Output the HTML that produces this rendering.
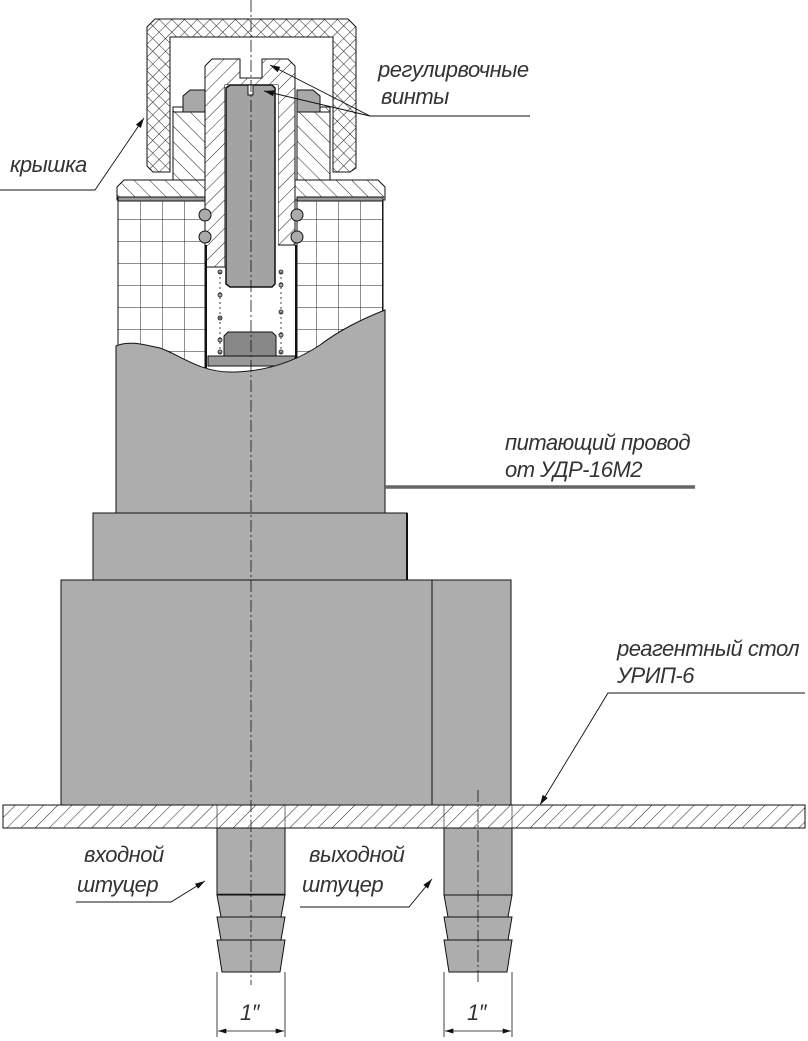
<!DOCTYPE html>
<html><head><meta charset="utf-8"><style>
html,body{margin:0;padding:0;background:#fff}
svg{display:block}
text{font-family:"Liberation Sans",sans-serif;font-style:italic;font-size:22px;fill:#333;letter-spacing:-0.5px}
</style></head><body>
<svg width="808" height="1041" viewBox="0 0 808 1041" xmlns="http://www.w3.org/2000/svg">
<defs>
<pattern id="hat" width="10" height="10" patternUnits="userSpaceOnUse" patternTransform="rotate(45)">
<rect width="10" height="10" fill="#fff"/><line x1="0" y1="0" x2="0" y2="10" stroke="#222" stroke-width="1"/></pattern>
<pattern id="hat2" width="11" height="11" patternUnits="userSpaceOnUse" patternTransform="rotate(-45)">
<rect width="11" height="11" fill="#fff"/><line x1="0" y1="0" x2="0" y2="11" stroke="#222" stroke-width="1"/></pattern>
<pattern id="cross" width="9" height="9" patternUnits="userSpaceOnUse" patternTransform="rotate(45)">
<rect width="9" height="9" fill="#fff"/><line x1="0" y1="0" x2="0" y2="9" stroke="#222" stroke-width="1"/><line x1="0" y1="0" x2="9" y2="0" stroke="#222" stroke-width="1"/></pattern>
<pattern id="grid" x="118" y="197" width="22" height="22" patternUnits="userSpaceOnUse">
<rect width="22" height="22" fill="#fff"/><path d="M0 0H22M0 0V22" stroke="#222" stroke-width="1"/></pattern>
<marker id="ar" viewBox="0 0 10 6" refX="10" refY="3" markerWidth="12" markerHeight="6" orient="auto" markerUnits="userSpaceOnUse"><path d="M0 0L10 3L0 6z" fill="#111"/></marker>
<marker id="ar2" viewBox="0 0 10 6" refX="10" refY="3" markerWidth="12" markerHeight="5" orient="auto-start-reverse" markerUnits="userSpaceOnUse"><path d="M0 0L10 3L0 6z" fill="#111"/></marker>
</defs>
<g stroke="#111" stroke-width="1">
<path d="M155 19H348L356 27V168L350 172H333V37H170V172H153L147 166V27Z" fill="url(#cross)"/>
<path d="M173 107H183V112H205V180H124L117 187V200H385V187L378 180H297V112H320V107H330V180H173Z" fill="url(#hat2)"/>
<path d="M173 112H205V180H173Z" fill="url(#hat2)"/>
<path d="M297 112H330V180H297Z" fill="url(#hat2)"/>
<rect x="118" y="200" width="87" height="170" fill="url(#grid)"/>
<rect x="297" y="200" width="86" height="170" fill="url(#grid)"/>
<rect x="118" y="197" width="87" height="4" fill="#999"/>
<rect x="297" y="197" width="86" height="4" fill="#999"/>
<path d="M183 112V96L190 90H205V112Z" fill="#a8a8a8"/>
<path d="M297 90H313L320 96V112H297Z" fill="#a8a8a8"/>
<path d="M205 66L212 59H240V78H262V59H288L295 66V245H278V85H225V267H205Z" fill="url(#hat)"/>
<rect x="225" y="85" width="53" height="182" fill="#fff" stroke="none"/>
<path d="M226 88L230 85H272L275 88V284L272 287H230L226 284Z" fill="#a3a3a3" stroke-width="1.5"/>
<rect x="248" y="85" width="5" height="10" fill="#fff"/>
<line x1="206" y1="245" x2="206" y2="368" stroke-width="2"/>
<line x1="296" y1="245" x2="296" y2="368" stroke-width="2"/>
<g fill="#aaa"><circle cx="205" cy="215" r="6"/><circle cx="205" cy="237" r="6"/><circle cx="297" cy="215" r="6"/><circle cx="297" cy="237" r="6"/></g>
<g fill="#aaa" stroke-width="0.8"><circle cx="220" cy="272" r="2"/><circle cx="220" cy="295" r="2"/><circle cx="220" cy="318" r="2"/><circle cx="220" cy="340" r="2"/><circle cx="220" cy="352" r="2"/>
<circle cx="281" cy="272" r="2"/><circle cx="281" cy="285" r="2"/><circle cx="281" cy="312" r="2"/><circle cx="281" cy="335" r="2"/><circle cx="281" cy="352" r="2"/></g>
<line x1="220" y1="272" x2="220" y2="355" stroke-dasharray="2 3" stroke-width="0.8"/>
<line x1="281" y1="272" x2="281" y2="355" stroke-dasharray="2 3" stroke-width="0.8"/>
<path d="M224 336L228 332H272L276 336V356H224Z" fill="#888"/>
<rect x="208" y="356" width="87" height="10" fill="#999"/>
<path d="M116 346C130 340 145 345 160 348C180 355 200 372 230 372C260 372 290 365 320 345C340 330 360 320 385 310V513H116Z" fill="#adadad"/>
<rect x="93" y="513" width="314" height="67" fill="#adadad"/>
<line x1="407" y1="513" x2="407" y2="580" stroke-width="2"/>
<rect x="61" y="580" width="371" height="225" fill="#adadad"/>
<rect x="432" y="580" width="79" height="225" fill="#adadad"/>
<rect x="3" y="805" width="802" height="23" fill="url(#hat)"/>
<line x1="217" y1="805" x2="217" y2="828" stroke-width="0.6"/><line x1="285" y1="805" x2="285" y2="828" stroke-width="0.6"/>
<line x1="444" y1="805" x2="444" y2="828" stroke-width="0.6"/><line x1="512" y1="805" x2="512" y2="828" stroke-width="0.6"/>
<g fill="#adadad">
<rect x="217" y="828" width="68" height="67"/>
<line x1="217" y1="895" x2="285" y2="895" stroke-width="2.5"/>
<path d="M217 895H285L281 917H221Z"/><path d="M217 917H285L281 940H221Z"/><path d="M217 940H285L280 972H222Z"/>
<rect x="444" y="828" width="68" height="67"/>
<path d="M444 895H512L508 917H448Z"/><path d="M444 917H512L508 940H448Z"/><path d="M444 940H512L507 972H449Z"/>
</g>
<g stroke-width="0.8">
<line x1="217" y1="972" x2="217" y2="1037"/><line x1="285" y1="972" x2="285" y2="1037"/>
<line x1="444" y1="972" x2="444" y2="1037"/><line x1="512" y1="972" x2="512" y2="1037"/>
<line x1="218" y1="1031" x2="284" y2="1031" marker-start="url(#ar2)" marker-end="url(#ar2)"/>
<line x1="445" y1="1031" x2="511" y2="1031" marker-start="url(#ar2)" marker-end="url(#ar2)"/>
</g>
<line x1="251" y1="0" x2="251" y2="985" stroke-width="0.8" stroke-dasharray="12 3 2 3"/>
<line x1="478" y1="790" x2="478" y2="985" stroke-width="0.8" stroke-dasharray="12 3 2 3"/>
<line x1="385" y1="487" x2="695" y2="487" stroke="#666" stroke-width="3.5"/>
<g stroke-width="0.9" fill="none">
<path d="M530 116H370L270 65" marker-end="url(#ar)"/>
<path d="M370 116L264 91" marker-end="url(#ar)"/>
<path d="M0 190H95L144 118" marker-end="url(#ar)"/>
<path d="M805 693H608L540 805" marker-end="url(#ar)"/>
<path d="M76 902H171L205 881" marker-end="url(#ar)"/>
<path d="M300 907H409L432 879" marker-end="url(#ar)"/>
</g>
</g>
<text x="378" y="77">регулирвочные</text>
<text x="381" y="104">винты</text>
<text x="10" y="172">крышка</text>
<text x="505" y="450">питающий провод</text>
<text x="505" y="477">от УДР-16М2</text>
<text x="617" y="656">реагентный стол</text>
<text x="617" y="683">УРИП-6</text>
<text x="84" y="862">входной</text>
<text x="77" y="892">штуцер</text>
<text x="309" y="862">выходной</text>
<text x="302" y="892">штуцер</text>
<text x="240" y="1020">1″</text>
<text x="467" y="1020">1″</text>
</svg>
</body></html>
